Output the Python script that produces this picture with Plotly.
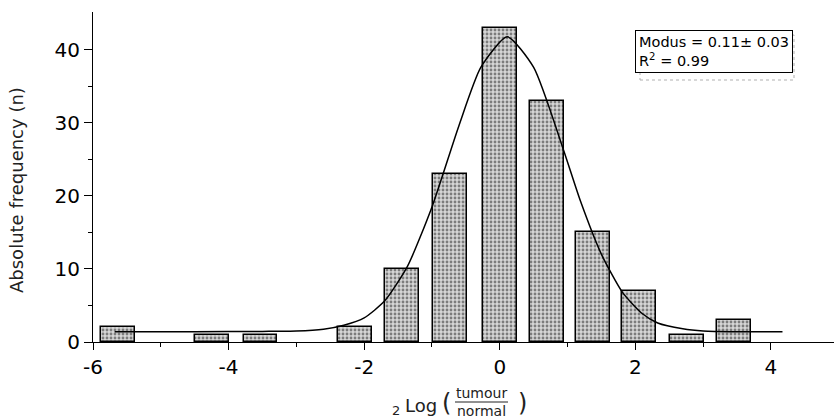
import plotly.graph_objects as go

# ---- data ----
bin_centers = [-5.63, -4.25, -3.53, -2.13, -1.44, -0.73, 0.0, 0.69, 1.37, 2.06, 2.76, 3.46]
counts = [2, 1, 1, 2, 10, 23, 43, 33, 15, 7, 1, 3]

fit_x = [-5.68, -4.5, -3.5, -3.0, -2.6, -2.3, -2.0, -1.7, -1.36, -1.0, -0.6, -0.28,
         0.11, 0.5, 0.94, 1.19, 1.5, 1.81, 2.1, 2.33, 2.7, 3.0, 3.5, 4.17]
fit_y = [1.4, 1.4, 1.45, 1.5, 1.75, 2.3, 3.3, 5.6, 10.4, 18.5, 29.7, 37.6,
         41.8, 37.6, 26.3, 19.3, 12.0, 6.8, 3.9, 2.6, 1.8, 1.5, 1.4, 1.4]

x_ticks = [-6, -4, -2, 0, 2, 4]
x_ticktext = ["-6", "-4", "-2", "0", "2", "4"]
y_ticks = [0, 10, 20, 30, 40]
stats_text = "Modus = 0.11\u00b1 0.03<br>R<sup>2</sup> = 0.99"
y_title = "Absolute frequency (n)"

W, H = 834, 420
ML, MR, MT, MB = 93, 0, 12, 78
PW, PH = W - ML - MR, H - MT - MB


def px(x):
    return (x - ML) / PW


def py(y):
    return (H - MB - y) / PH


FONT = "DejaVu Sans"

fig = go.Figure()
fig.add_trace(go.Bar(
    x=bin_centers, y=counts, width=0.5,
    marker=dict(
        color="#d6d6d6",
        line=dict(color="black", width=1.5),
        pattern=dict(shape=".", fgcolor="#222222", bgcolor="#d6d6d6", size=4, solidity=0.4),
    ),
))
fig.add_trace(go.Scatter(
    x=fit_x, y=fit_y, mode="lines",
    line=dict(color="black", width=1.5, shape="spline", smoothing=0.6),
))

axis_common = dict(
    showline=True, linecolor="black", linewidth=1,
    ticks="outside", tickcolor="black", tickwidth=1,
    showgrid=False, zeroline=False,
    tickfont=dict(family=FONT, size=20, color="black"),
)
fig.update_xaxes(range=[-6, 4.93], tickvals=x_ticks, ticktext=x_ticktext, ticklen=7,
                 minor=dict(tickvals=[-5, -3, -1, 1, 3], ticks="outside", ticklen=4, tickcolor="black"),
                 **axis_common)
fig.update_yaxes(range=[0, 45.2], tickvals=y_ticks, ticklen=8,
                 minor=dict(tickvals=[5, 15, 25, 35], ticks="outside", ticklen=4, tickcolor="black"),
                 **axis_common)

# stats box with faint shadow
fig.add_shape(type="rect", xref="paper", yref="paper",
              x0=px(640), x1=px(794), y0=py(80), y1=py(35),
              line=dict(color="#b0b0b0", width=1, dash="dot"), layer="above")
fig.add_annotation(text=stats_text, xref="paper", yref="paper",
                   x=px(635), y=py(30), xanchor="left", yanchor="top",
                   showarrow=False, align="left", bgcolor="white",
                   bordercolor="black", borderwidth=1, borderpad=3,
                   font=dict(family=FONT, size=14.5, color="black"))

# y-axis title
fig.add_annotation(text=y_title, xref="paper", yref="paper",
                   x=px(17), y=py(190), textangle=-90, showarrow=False,
                   xanchor="center", yanchor="middle",
                   font=dict(family=FONT, size=18, color="#222"))

# x-axis title: 2Log(tumour/normal)
def lab(t, xc, yc, size):
    fig.add_annotation(text=t, xref="paper", yref="paper", x=px(xc), y=py(yc),
                       xanchor="center", yanchor="middle", showarrow=False,
                       font=dict(family=FONT, size=size, color="#222"))

lab("2", 396, 410, 13)
lab("Log", 421, 405, 18)
lab("(", 446, 403, 24)
lab("tumour", 482, 393, 14)
lab("normal", 482, 411, 14)
lab(")", 522, 403, 24)
fig.add_shape(type="line", xref="paper", yref="paper",
              x0=px(455), x1=px(508), y0=py(402), y1=py(402),
              line=dict(color="#222", width=1))

fig.update_layout(
    width=W, height=H, margin=dict(l=ML, r=MR, t=MT, b=MB),
    plot_bgcolor="white", paper_bgcolor="white", showlegend=False,
    bargap=0,
)

fig.write_html("out.html")
